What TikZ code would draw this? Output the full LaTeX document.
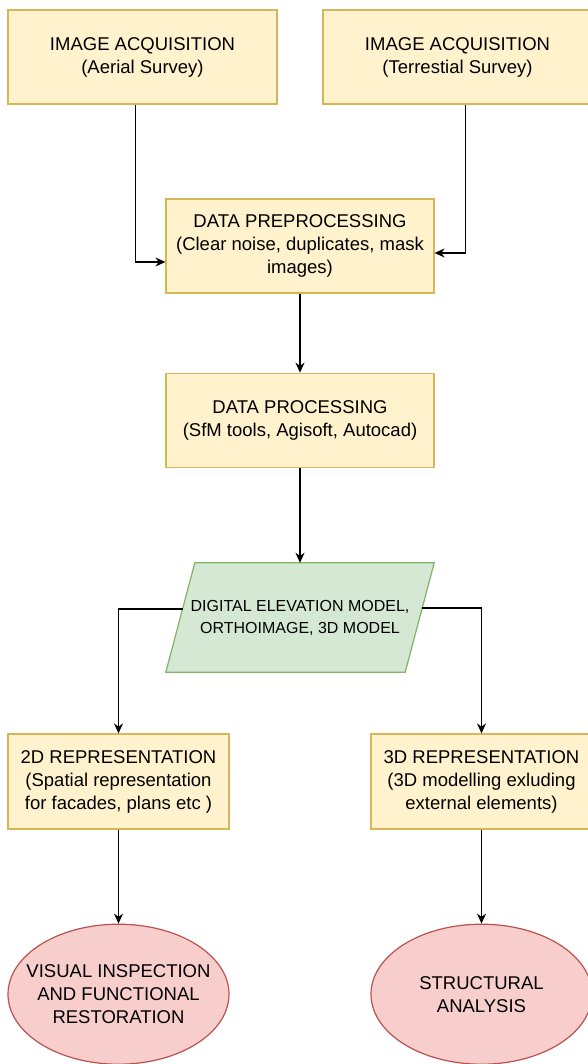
\documentclass[tikz,border=0pt]{standalone}
\usepackage{fontspec}
\setmainfont{Liberation Sans}
\usetikzlibrary{positioning,shapes.geometric,arrows.meta,backgrounds}

\definecolor{stageFill}{HTML}{FFF2CC}
\definecolor{stageLine}{HTML}{D6B656}
\definecolor{modelFill}{HTML}{D5E8D4}
\definecolor{modelLine}{HTML}{82B366}
\definecolor{goalFill}{HTML}{F8CECC}
\definecolor{goalLine}{HTML}{B85450}

\begin{document}
\begin{tikzpicture}[x=1pt, y=-1pt,
  stage/.style={draw=stageLine, fill=stageFill, line width=1.2pt, minimum height=94pt, align=center, inner sep=2pt, font=\fontsize{18.5}{23}\selectfont},
  goal/.style={ellipse, draw=goalLine, fill=goalFill, line width=1.2pt, minimum width=221pt, minimum height=140pt, align=center, inner xsep=-20pt, inner ysep=0pt, font=\fontsize{18.5}{23}\selectfont},
  flow/.style={-{Stealth[length=10pt,width=9pt]}, line width=1.2pt}]
\useasboundingbox (0,0) rectangle (587,1064);
\begin{scope}[on background layer]
\fill[white] (0,0) rectangle (587,1064);
\end{scope}

% acquisition
\node[stage, minimum width=269pt] (acqA) at (142.5,57) {IMAGE ACQUISITION\\(Aerial Survey)};
\node[stage, minimum width=269pt] (acqT) at (457.5,57) {IMAGE ACQUISITION\\(Terrestial Survey)};

% processing chain
\node[stage, minimum width=268pt] (prep) at (300,246) {DATA PREPROCESSING\\(Clear noise, duplicates, mask\\images)};
\node[stage, minimum width=268pt, below=79pt of prep] (proc) {DATA PROCESSING\\(SfM tools, Agisoft, Autocad)};
\node[minimum width=268pt, minimum height=109pt, align=center, font=\fontsize{16}{22}\selectfont, below=95pt of proc] (model) {DIGITAL ELEVATION MODEL,\\ORTHOIMAGE, 3D MODEL};
\begin{scope}[on background layer]
\draw[draw=modelLine, fill=modelFill, line width=1.2pt] ([xshift=29pt]model.north west) -- (model.north east) -- ([xshift=-29pt]model.south east) -- (model.south west) -- cycle;
\end{scope}

% outputs
\node[stage, minimum width=221pt, minimum height=95pt] (rep2d) at (118.5,781.5) {2D REPRESENTATION\\(Spatial representation\\for facades, plans etc )};
\node[stage, minimum width=221pt, minimum height=95pt] (rep3d) at (481.5,781.5) {3D REPRESENTATION\\(3D modelling exluding\\external elements)};
\node[goal, below=94pt of rep2d] (inspect) {VISUAL INSPECTION\\AND FUNCTIONAL\\RESTORATION};
\node[goal, below=94pt of rep3d] (struct) {STRUCTURAL\\ANALYSIS};

\draw[flow] ([xshift=-7pt]acqA.south) |- ([yshift=-16pt]prep.west);
\draw[flow] ([xshift=8pt]acqT.south) |- ([yshift=-7pt]prep.east);
\draw[flow] (prep) -- (proc);
\draw[flow] (proc) -- (model);
\draw[flow] ([xshift=17pt,yshift=8.5pt]model.west) -| (rep2d.north);
\draw[flow] ([xshift=-12pt,yshift=9.5pt]model.east) -| (rep3d.north);
\draw[flow] (rep2d) -- (inspect);
\draw[flow] (rep3d) -- (struct);
\end{tikzpicture}
\end{document}
